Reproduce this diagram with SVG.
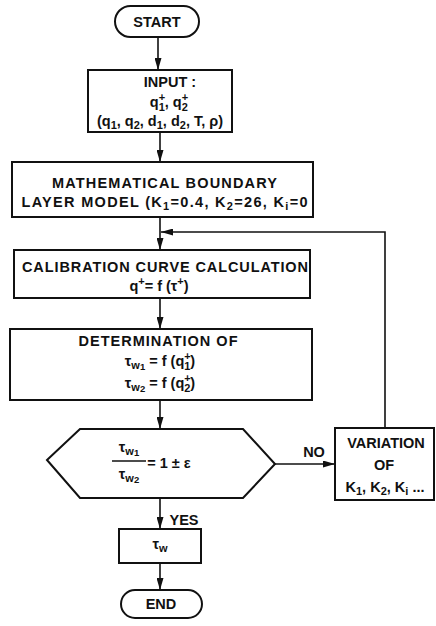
<svg xmlns="http://www.w3.org/2000/svg" width="436" height="626" viewBox="0 0 436 626">
<style>
.box{fill:#fff;stroke:#111;stroke-width:2}
.ln{stroke:#111;stroke-width:1.6;fill:none}
.t{font-family:"Liberation Sans",Arial,sans-serif;font-size:14.5px;font-weight:bold;fill:#111;text-anchor:middle}
.s{font-size:11px}
.ss{font-size:9.5px}
</style>
<defs>
<marker id="ah" markerUnits="userSpaceOnUse" markerWidth="12" markerHeight="7" refX="12" refY="3.5" orient="auto">
<path d="M0,0 L12,3.5 L0,7 z" fill="#111"/>
</marker>
</defs>
<rect width="436" height="626" fill="#fff"/>
<g id="connectors">
<line class="ln" x1="158" y1="37" x2="158" y2="70" marker-end="url(#ah)"/>
<line class="ln" x1="160" y1="132" x2="160" y2="162" marker-end="url(#ah)"/>
<line class="ln" x1="160" y1="217" x2="160" y2="250" marker-end="url(#ah)"/>
<line class="ln" x1="160" y1="298" x2="160" y2="329" marker-end="url(#ah)"/>
<line class="ln" x1="160" y1="400" x2="160" y2="429" marker-end="url(#ah)"/>
<line class="ln" x1="160" y1="498" x2="160" y2="529" marker-end="url(#ah)"/>
<line class="ln" x1="160" y1="563" x2="160" y2="590" marker-end="url(#ah)"/>
<line class="ln" x1="275" y1="464" x2="335" y2="464" marker-end="url(#ah)"/>
<path class="ln" d="M385,428 V232 H161" marker-end="url(#ah)"/>
<text class="t" x="314" y="457">NO</text>
<text class="t" x="184" y="525">YES</text>
</g>
<g id="start">
<rect class="box" x="115" y="6" width="84" height="31" rx="15.5"/>
<text class="t" x="157" y="27">START</text>
</g>
<g id="input">
<rect class="box" x="88" y="70" width="144" height="62"/>
<text class="t" x="170" y="87">INPUT :</text>
<text class="t" x="169" y="107">q<tspan class="s" dy="-6">+</tspan><tspan class="s" dx="-6.5" dy="10">1</tspan><tspan dy="-4">, q</tspan><tspan class="s" dy="-6">+</tspan><tspan class="s" dx="-6.5" dy="10">2</tspan></text>
<text class="t" x="160" y="126">(q<tspan class="s" dy="3">1</tspan><tspan dy="-3">, q</tspan><tspan class="s" dy="3">2</tspan><tspan dy="-3">, d</tspan><tspan class="s" dy="3">1</tspan><tspan dy="-3">, d</tspan><tspan class="s" dy="3">2</tspan><tspan dy="-3">, T, ρ)</tspan></text>
</g>
<g id="model">
<rect class="box" x="12" y="162" width="301" height="55"/>
<text class="t" x="164.5" y="188" textLength="225">MATHEMATICAL BOUNDARY</text>
<text class="t" x="164.5" y="207" textLength="286">LAYER MODEL (K<tspan class="s" dy="3">1</tspan><tspan dy="-3">=0.4, K</tspan><tspan class="s" dy="3">2</tspan><tspan dy="-3">=26, K</tspan><tspan class="s" dy="3">i</tspan><tspan dy="-3">=0</tspan></text>
</g>
<g id="calibration">
<rect class="box" x="14" y="250" width="296" height="48"/>
<text class="t" x="165" y="272" textLength="286">CALIBRATION CURVE CALCULATION</text>
<text class="t" x="159" y="291">q<tspan class="s" dy="-6">+</tspan><tspan dy="6">= f (τ</tspan><tspan class="s" dy="-6">+</tspan><tspan dy="6">)</tspan></text>
</g>
<g id="determination">
<rect class="box" x="10" y="329" width="302" height="71"/>
<text class="t" x="158" y="346" textLength="159">DETERMINATION OF</text>
<text class="t" x="160" y="366">τ<tspan class="s" dy="3">w</tspan><tspan class="ss" dy="1">1</tspan><tspan dy="-4"> = f (q</tspan><tspan class="s" dy="-6">+</tspan><tspan class="s" dx="-6.5" dy="10">1</tspan><tspan dy="-4">)</tspan></text>
<text class="t" x="160" y="388">τ<tspan class="s" dy="3">w</tspan><tspan class="ss" dy="1">2</tspan><tspan dy="-4"> = f (q</tspan><tspan class="s" dy="-6">+</tspan><tspan class="s" dx="-6.5" dy="10">2</tspan><tspan dy="-4">)</tspan></text>
</g>
<g id="check">
<polygon class="box" points="47,460 80,429 243,429 275,464 243,498 80,498"/>
<text class="t" x="129" y="452">τ<tspan class="s" dy="3">w</tspan><tspan class="ss" dy="1">1</tspan></text>
<line x1="112" y1="461" x2="146" y2="461" stroke="#111" stroke-width="1.5"/>
<text class="t" x="129" y="479">τ<tspan class="s" dy="3">w</tspan><tspan class="ss" dy="1">2</tspan></text>
<text class="t" x="169" y="468">= 1 ± ε</text>
</g>
<g id="variation">
<rect class="box" x="335" y="428" width="99" height="72"/>
<text class="t" x="386" y="448">VARIATION</text>
<text class="t" x="384" y="470">OF</text>
<text class="t" x="385" y="492">K<tspan class="s" dy="3">1</tspan><tspan dy="-3">, K</tspan><tspan class="s" dy="3">2</tspan><tspan dy="-3">, K</tspan><tspan class="s" dy="3">i</tspan><tspan dy="-3"> ...</tspan></text>
</g>
<g id="tauw">
<rect class="box" x="119" y="529" width="82" height="34"/>
<text class="t" x="160" y="549">τ<tspan class="s" dy="3">w</tspan></text>
</g>
<g id="end">
<rect class="box" x="121" y="590" width="81" height="28" rx="14"/>
<text class="t" x="161" y="609">END</text>
</g>
</svg>
